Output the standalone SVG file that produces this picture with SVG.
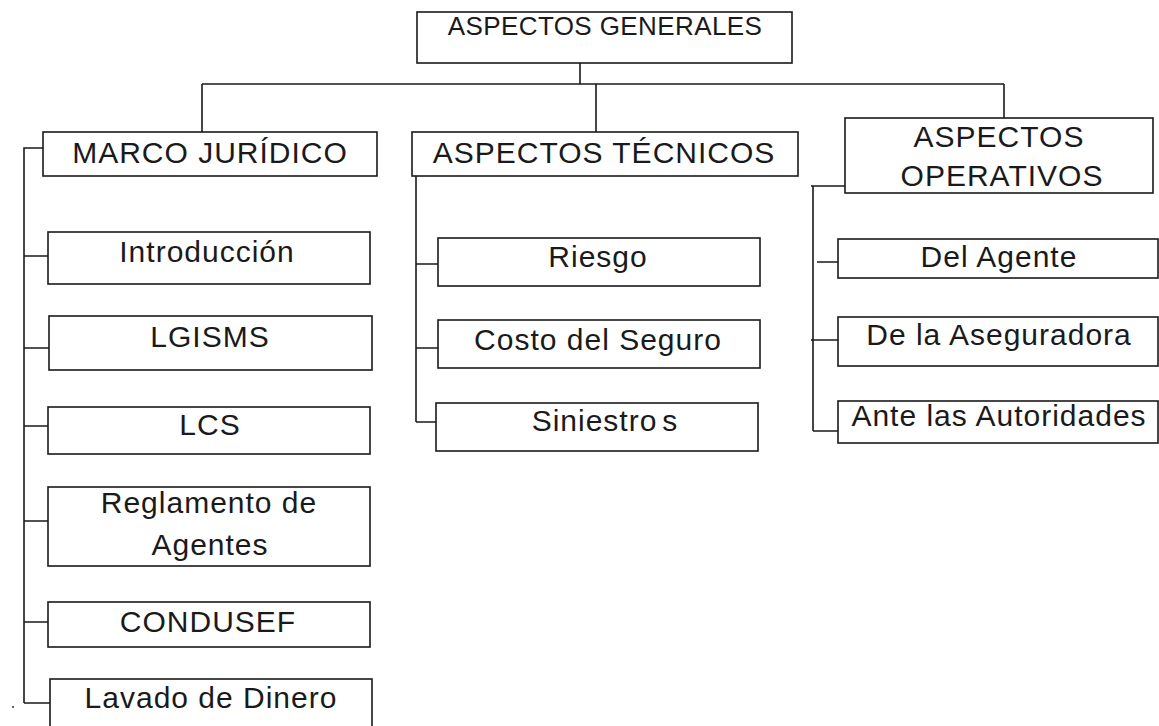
<svg xmlns="http://www.w3.org/2000/svg" width="1159" height="726" viewBox="0 0 1159 726">
<style>
.box{fill:#fff;stroke:#1a1a1a;stroke-width:1.6}
.ln{stroke:#1a1a1a;stroke-width:1.6;fill:none}
text{font-family:"Liberation Sans",Arial,sans-serif;font-size:30px;fill:#1a1a1a;text-anchor:middle;letter-spacing:1px}
.t{font-size:26px;letter-spacing:0.4px}
</style>
<rect width="1159" height="726" fill="#fff"/>
<g id="connectors">
<path class="ln" d="M580,63 V84 M202,84 H1004 M202,84 V133 M596,84 V132 M1004,84 V118"/>
<path class="ln" d="M43,148 H24 V703 M24,256 H48 M24,348 H49 M24,426 H48 M24,521 H48 M24,622 H48 M24,703 H50"/>
<path class="ln" d="M416,176 V422 M416,264 H438 M416,348 H438 M416,422 H436"/>
<path class="ln" d="M845,186 H811 M813,186 V431 M817,262 H838 M811,340 H838 M813,431 H838"/>
<circle cx="13" cy="707" r="1" fill="#333"/>
</g>
<g id="aspectos-generales"><rect class="box" x="417" y="12" width="375" height="51"/><text class="t" x="605" y="35">ASPECTOS GENERALES</text></g>
<g id="marco-juridico"><rect class="box" x="43" y="132" width="334" height="44"/><text x="210" y="163">MARCO JURÍDICO</text></g>
<g id="introduccion"><rect class="box" x="48" y="232" width="322" height="52"/><text x="207" y="262">Introducción</text></g>
<g id="lgisms"><rect class="box" x="49" y="316" width="323" height="54"/><text x="210" y="347">LGISMS</text></g>
<g id="lcs"><rect class="box" x="48" y="407" width="322" height="47"/><text x="210" y="435">LCS</text></g>
<g id="reglamento"><rect class="box" x="48" y="487" width="322" height="79"/><text x="209" y="513">Reglamento de</text><text x="210" y="555">Agentes</text></g>
<g id="condusef"><rect class="box" x="48" y="602" width="322" height="45"/><text x="208" y="632">CONDUSEF</text></g>
<g id="lavado"><rect class="box" x="50" y="679" width="322" height="60"/><text x="211" y="708">Lavado de Dinero</text></g>
<g id="aspectos-tecnicos"><rect class="box" x="412" y="132" width="386" height="44"/><text x="604" y="163">ASPECTOS TÉCNICOS</text></g>
<g id="riesgo"><rect class="box" x="438" y="238" width="322" height="48"/><text x="598" y="267">Riesgo</text></g>
<g id="costo"><rect class="box" x="438" y="320" width="322" height="48"/><text x="598" y="350">Costo del Seguro</text></g>
<g id="siniestros"><rect class="box" x="436" y="403" width="322" height="48"/><text x="605" y="431">Siniestro<tspan dx="5">s</tspan></text></g>
<g id="aspectos-operativos"><rect class="box" x="845" y="118" width="308" height="75"/><text x="999" y="147">ASPECTOS</text><text x="1002" y="186">OPERATIVOS</text></g>
<g id="del-agente"><rect class="box" x="838" y="239" width="320" height="39"/><text x="999" y="267">Del Agente</text></g>
<g id="aseguradora"><rect class="box" x="838" y="317" width="320" height="49"/><text x="999" y="345">De la Aseguradora</text></g>
<g id="autoridades"><rect class="box" x="838" y="401" width="320" height="42"/><text x="999" y="426">Ante las Autoridades</text></g>
</svg>
